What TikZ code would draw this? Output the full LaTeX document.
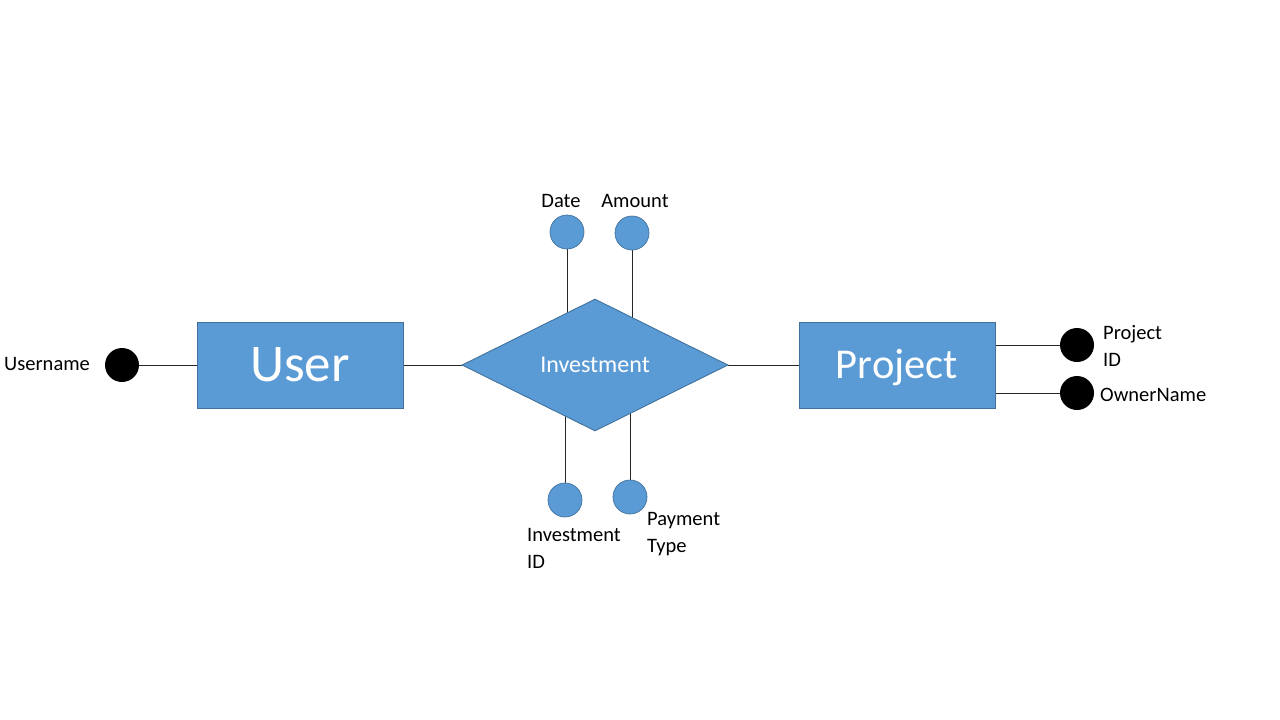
\documentclass[tikz,border=0pt]{standalone}
\usepackage{fontspec}
\setmainfont{Carlito}
\usetikzlibrary{shapes.geometric,backgrounds}
\definecolor{fillb}{HTML}{5B9BD5}
\definecolor{edgeb}{HTML}{41719C}
\begin{document}
\begin{tikzpicture}[x=1pt,y=-1pt,
  entity/.style={draw=edgeb,fill=fillb,line width=0.9pt,inner sep=0,text=white},
  rel/.style={diamond,draw=edgeb,fill=fillb,line width=0.9pt,inner sep=0,aspect=2,
    minimum width=266pt,minimum height=132pt,text=white,font=\fontsize{24}{28}\selectfont},
  attrblue/.style={circle,draw=edgeb,fill=fillb,line width=0.7pt,minimum size=34pt,inner sep=0},
  attrkey/.style={circle,fill=black,minimum size=34pt,inner sep=0},
  lbl/.style={inner sep=0,align=left,font=\fontsize{20.5}{27}\selectfont},
  conn/.style={draw=black!85,line width=0.9pt}]
\useasboundingbox (0,0) rectangle (1280,720);

\node[entity,minimum width=206pt,minimum height=86pt,font=\fontsize{53}{60}\selectfont] (user) at (300,365) {User};
\node[entity,minimum width=196pt,minimum height=86pt,text height=27pt,text depth=0pt,font=\fontsize{42.5}{48}\selectfont] (project) at (897,365) {Project};
\node[rel] (inv) at (595,365) {Investment};

\node[attrkey] (uname) at (122,365) {};
\node[attrblue] (date) at (567,232) {};
\node[attrblue] (amount) at (632,233) {};
\node[attrblue] (invid) at (565,500) {};
\node[attrblue] (ptype) at (630,497) {};
\node[attrkey] (pid) at (1077,345) {};
\node[attrkey] (owner) at (1077,393) {};

\node[lbl,anchor=west] (tuname) at (4,364) {Username};
\node[lbl] (tdate) at (561,201) {Date};
\node[lbl] (tamount) at (635,201) {Amount};
\node[lbl,anchor=west] (tinvid) at (527,548) {Investment\\ID};
\node[lbl,anchor=west] (tptype) at (647,534) {Payment\\Type};
\node[lbl,anchor=west] (tpid) at (1103,346) {Project\\ID};
\node[lbl,anchor=west] (towner) at (1100,395) {OwnerName};

\begin{scope}[on background layer]
\fill[white] (0,0) rectangle (1280,720);
\draw[conn] (uname.east) -- (user.west);
\draw[conn] (user.east) -- (inv.west);
\draw[conn] (inv.east) -- (project.west);
\draw[conn] (date.south) -- (date.south |- inv.center);
\draw[conn] (amount.south) -- (amount.south |- inv.center);
\draw[conn] (invid.north) -- (invid.north |- inv.center);
\draw[conn] (ptype.north) -- (ptype.north |- inv.center);
\draw[conn] (pid.west) -- (pid.west -| project.center);
\draw[conn] (owner.west) -- (owner.west -| project.center);
\end{scope}
\end{tikzpicture}
\end{document}
